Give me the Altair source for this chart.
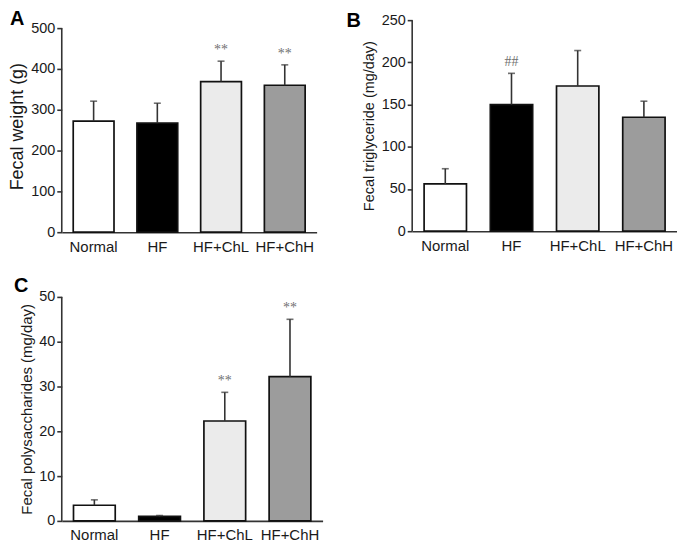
import altair as alt
import pandas as pd

groups = ["Normal", "HF", "HF+ChL", "HF+ChH"]
fills = ["#ffffff", "#000000", "#ebebeb", "#9c9c9c"]

weight = [272, 267, 369, 360]
weight_top = [321, 316, 419, 410]
weight_marks = ["", "", "**", "**"]

tg = [56, 150, 172, 135]
tg_top = [74, 187, 214, 154]
tg_marks = ["", "##", "", ""]

ps = [3.5, 1.0, 22.3, 32.2]
ps_top = [4.7, 1.2, 28.7, 45.0]
ps_marks = ["", "", "**", "**"]

FONT = "Liberation Sans"


def panel(letter, values, tops, marks, ytitle, ymax, step, w, h, gap,
          title_size, letter_x, letter_y, title_pad):
    df = pd.DataFrame({"group": groups, "value": values, "top": tops, "mark": marks})
    dmax = ymax * h / (h - gap)
    x = alt.X("group:N", sort=groups,
              scale=alt.Scale(paddingInner=0.36, paddingOuter=0.18),
              axis=alt.Axis(title=None, labelAngle=0, ticks=False, labelFontSize=15,
                            labelPadding=7, labelFont=FONT, labelColor="#1a1a1a",
                            domainColor="#333333", domainWidth=1.6))
    y = alt.Y("value:Q", scale=alt.Scale(domain=[0, dmax], nice=False, zero=True),
              axis=alt.Axis(title=ytitle, values=list(range(0, ymax + 1, step)),
                            grid=False, domain=False, tickSize=5, tickColor="#333333",
                            tickWidth=1.6, labelFontSize=14.5, labelFont=FONT,
                            labelColor="#1a1a1a", labelPadding=2, titleFont=FONT,
                            titleFontSize=title_size, titleFontWeight="normal",
                            titleColor="#1a1a1a", titlePadding=title_pad))
    base = alt.Chart(df)
    bars = base.mark_bar(stroke="#111111", strokeWidth=1.7).encode(
        x=x, y=y,
        fill=alt.Fill("group:N", scale=alt.Scale(domain=groups, range=fills), legend=None))
    err = base.mark_rule(color="#333333", strokeWidth=1.6).encode(
        x=alt.X("group:N", sort=groups), y="value:Q", y2="top:Q")
    cap = base.mark_tick(color="#333333", thickness=1.6, size=7).encode(
        x=alt.X("group:N", sort=groups), y="top:Q")
    stars = base.mark_text(dy=-11, font="Liberation Serif", fontSize=14,
                           color="#707070").encode(
        x=alt.X("group:N", sort=groups), y="top:Q", text="mark:N")
    axis_line = alt.Chart(pd.DataFrame({"lo": [0], "hi": [ymax]})).mark_rule(
        color="#333333", strokeWidth=1.6).encode(
        x=alt.value(0), y="lo:Q", y2="hi:Q")
    lab = alt.Chart(pd.DataFrame({"t": [letter]})).mark_text(
        font=FONT, fontSize=20, fontWeight="bold", align="left", baseline="top",
        color="#000000").encode(x=alt.value(letter_x), y=alt.value(letter_y), text="t:N")
    return alt.layer(bars, err, cap, stars, axis_line, lab).properties(width=w, height=h)


a = panel("A", weight, weight_top, weight_marks, "Fecal weight (g)", 500, 100,
          256, 213, 8, 18, -52, -11, 4)
b = panel("B", tg, tg_top, tg_marks, "Fecal triglyceride (mg/day)", 250, 50,
          266, 212, 0, 14.5, -66, -9, 5)
c = panel("C", ps, ps_top, ps_marks, "Fecal polysaccharides (mg/day)", 50, 10,
          262, 225, 0, 15, -48, -21, 4)

chart = alt.vconcat(
    alt.hconcat(a, b, spacing=30),
    c,
    spacing=22,
).properties(padding=0).configure_view(stroke=None)

chart.save("out.html", embed_options={"renderer": "svg", "actions": False})
